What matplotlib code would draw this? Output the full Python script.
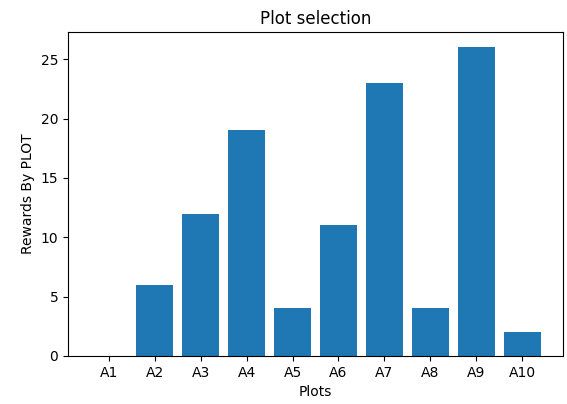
import matplotlib
matplotlib.use("Agg")
import matplotlib.pyplot as plt

plots = ['A1', 'A2', 'A3', 'A4', 'A5', 'A6', 'A7', 'A8', 'A9', 'A10']
rewards = [0, 6, 12, 19, 4, 11, 23, 4, 26, 2]

fig = plt.figure(figsize=(5.67, 4.04), dpi=100)
fig.subplots_adjust(left=0.12, right=0.993, top=0.921, bottom=0.119)
ax = fig.add_subplot(111)
ax.bar(plots, rewards, color='#1f77b4')
ax.set_title('Plot selection')
ax.set_xlabel('Plots')
ax.set_ylabel('Rewards By PLOT')

fig.savefig('out.png', dpi=100)
